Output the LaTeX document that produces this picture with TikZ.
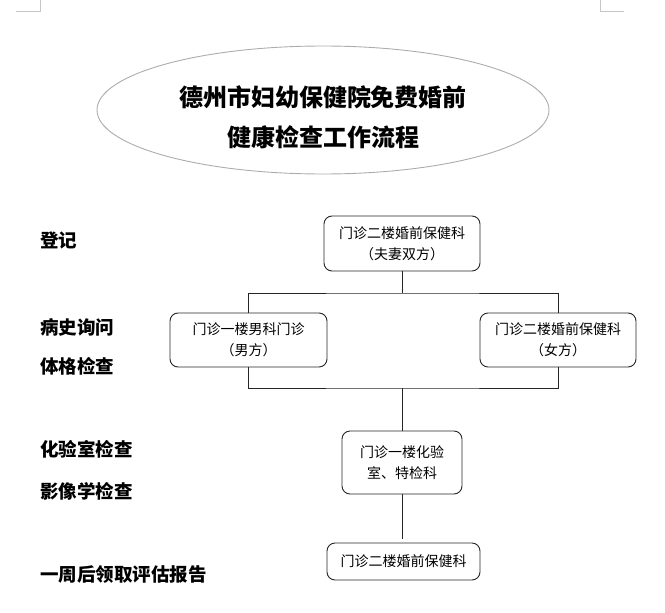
\documentclass[tikz,border=0pt]{standalone}
\usepackage{fontspec}
\setmainfont{Noto Sans CJK SC}
\usetikzlibrary{shapes.geometric}
\tikzset{boxnode/.style={draw=black!85, line width=0.9pt, rounded corners=8pt, align=center, inner sep=0pt, font=\fontsize{14}{21}\selectfont}}
\tikzset{stagename/.style={anchor=west, inner sep=0pt, font=\fontsize{18.5}{22}\selectfont\bfseries}}
\tikzset{link/.style={draw=black!85, line width=0.9pt}}

\begin{document}
\begin{tikzpicture}[x=1pt, y=-1pt]
    \useasboundingbox (0,0) rectangle (665,613);
    % page corner marks
    \draw[gray!45] (16,11) -- (40,11) -- (40,0);
    \draw[gray!45] (624,11) -- (600,11) -- (600,0);

    \node[draw=gray!65, line width=0.9pt, ellipse, minimum width=452, minimum height=128] (oval) at (323,110) {};
    \node[align=center, font=\fontsize{24}{40}\selectfont\bfseries] (title) at (323,117) {德州市妇幼保健院免费婚前\\健康检查工作流程};

    \node[stagename] (s1) at (40,240) {登记};
    \node[stagename] (s2) at (40,327) {病史询问};
    \node[stagename] (s3) at (40,366) {体格检查};
    \node[stagename] (s4) at (40,449) {化验室检查};
    \node[stagename] (s5) at (40,491) {影像学检查};
    \node[stagename] (s6) at (40,575) {一周后领取评估报告};

    \node[boxnode, minimum width=156, minimum height=55] (b1) at (402,243.5) {门诊二楼婚前保健科\\（夫妻双方）};
    \node[boxnode, minimum width=157, minimum height=54] (b2) at (248.5,340) {门诊一楼男科门诊\\（男方）};
    \node[boxnode, minimum width=156, minimum height=54] (b3) at (558,340) {门诊二楼婚前保健科\\（女方）};
    \node[boxnode, minimum width=120, minimum height=63] (b4) at (402,462.5) {门诊一楼化验\\室、特检科};
    \node[boxnode, minimum width=153, minimum height=37] (b5) at (403.5,561.5) {门诊二楼婚前保健科};

    \coordinate (split) at (402,293);
    \coordinate (join) at (402,388);

    \draw[link] (b1.south) -- (split);
    \draw[link] (b2.north) |- (split) -| (b3.north);
    \draw[link] (b2.south) |- (join) -| (b3.south);
    \draw[link] (join) -- (b4.north);
    \draw[link, shorten >=4pt] (b4.south) -- (b4.south |- b5.north);
\end{tikzpicture}
\end{document}
